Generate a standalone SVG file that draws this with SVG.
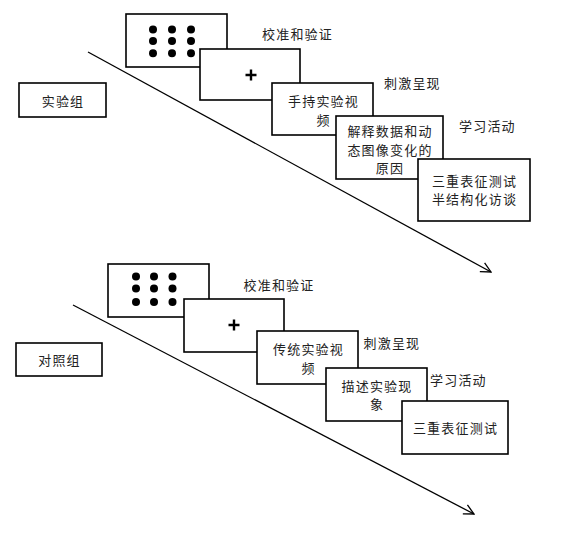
<svg xmlns="http://www.w3.org/2000/svg" width="576" height="534" viewBox="0 0 576 534">
<style>
.box{fill:#fff;stroke:#000;stroke-width:1.6}
.t{font-family:"Noto Sans CJK SC","Noto Sans CJK JP",sans-serif;font-size:13px;letter-spacing:1.2px;fill:#222;dominant-baseline:central}
.m{text-anchor:middle}
.conn{stroke:#000;stroke-width:1.3;fill:none}
.dot{fill:#000}
.plus{stroke:#000;stroke-width:2.4;fill:none}
</style>
<defs>
<marker id="arr" viewBox="0 0 12 12" refX="11" refY="6" markerWidth="12" markerHeight="12" markerUnits="userSpaceOnUse" orient="auto">
<path d="M1,1 L11,6 L1,11" fill="none" stroke="#000" stroke-width="1.3"/>
</marker>
</defs>
<g id="connectors">
<line class="conn" x1="88" y1="52" x2="491" y2="272" marker-end="url(#arr)"/>
<line class="conn" x1="73" y1="305" x2="474" y2="514" marker-end="url(#arr)"/>
</g>
<g id="exp-group"><rect class="box" x="19" y="83" width="87" height="34"/><text class="t m" x="63" y="100">实验组</text></g>
<g id="exp-calib">
<rect class="box" x="126" y="14" width="101" height="53"/>
<circle class="dot" cx="153" cy="29.5" r="4"/><circle class="dot" cx="172" cy="29.5" r="4"/><circle class="dot" cx="191" cy="29.5" r="4"/>
<circle class="dot" cx="153" cy="41" r="4"/><circle class="dot" cx="172" cy="41" r="4"/><circle class="dot" cx="191" cy="41" r="4"/>
<circle class="dot" cx="153" cy="53.3" r="4"/><circle class="dot" cx="172" cy="53.3" r="4"/><circle class="dot" cx="191" cy="53.3" r="4"/>
</g>
<g id="exp-fix"><rect class="box" x="200" y="49" width="100" height="51"/><path class="plus" d="M245.5,75 h11 M251,69.5 v11"/></g>
<g id="exp-video"><rect class="box" x="272" y="83" width="101" height="52"/><text class="t m" x="323.5" y="100">手持实验视</text><text class="t m" x="323.5" y="119">频</text></g>
<g id="exp-learn"><rect class="box" x="336" y="116" width="107" height="63"/><text class="t m" x="390" y="130">解释数据和动</text><text class="t m" x="390" y="149">态图像变化的</text><text class="t m" x="390" y="167.5">原因</text></g>
<g id="exp-test"><rect class="box" x="418" y="159" width="112" height="62"/><text class="t m" x="474.5" y="180">三重表征测试</text><text class="t m" x="474.5" y="198.5">半结构化访谈</text></g>
<g id="exp-labels">
<text class="t" x="262" y="33.5">校准和验证</text>
<text class="t" x="384" y="82">刺激呈现</text>
<text class="t" x="459" y="125">学习活动</text>
</g>
<g id="ctl-group"><rect class="box" x="16" y="343" width="86" height="33"/><text class="t m" x="59.5" y="359.5">对照组</text></g>
<g id="ctl-calib">
<rect class="box" x="108" y="264" width="101" height="53"/>
<circle class="dot" cx="136" cy="276.5" r="4"/><circle class="dot" cx="154" cy="276.5" r="4"/><circle class="dot" cx="172.5" cy="276.5" r="4"/>
<circle class="dot" cx="136" cy="288.5" r="4"/><circle class="dot" cx="154" cy="288.5" r="4"/><circle class="dot" cx="172.5" cy="288.5" r="4"/>
<circle class="dot" cx="136" cy="302" r="4"/><circle class="dot" cx="154" cy="302" r="4"/><circle class="dot" cx="172.5" cy="302" r="4"/>
</g>
<g id="ctl-fix"><rect class="box" x="184" y="299" width="100" height="53"/><path class="plus" d="M228.5,325 h11 M234,319.5 v11"/></g>
<g id="ctl-video"><rect class="box" x="257" y="331" width="101" height="53"/><text class="t m" x="308.5" y="348.5">传统实验视</text><text class="t m" x="308.5" y="367">频</text></g>
<g id="ctl-learn"><rect class="box" x="326" y="368" width="101" height="53"/><text class="t m" x="377" y="385">描述实验现</text><text class="t m" x="377" y="403.5">象</text></g>
<g id="ctl-test"><rect class="box" x="402" y="401" width="106" height="53"/><text class="t m" x="455.5" y="427.5">三重表征测试</text></g>
<g id="ctl-labels">
<text class="t" x="243.5" y="284.5">校准和验证</text>
<text class="t" x="363.5" y="342">刺激呈现</text>
<text class="t" x="430" y="379.5">学习活动</text>
</g>
</svg>
